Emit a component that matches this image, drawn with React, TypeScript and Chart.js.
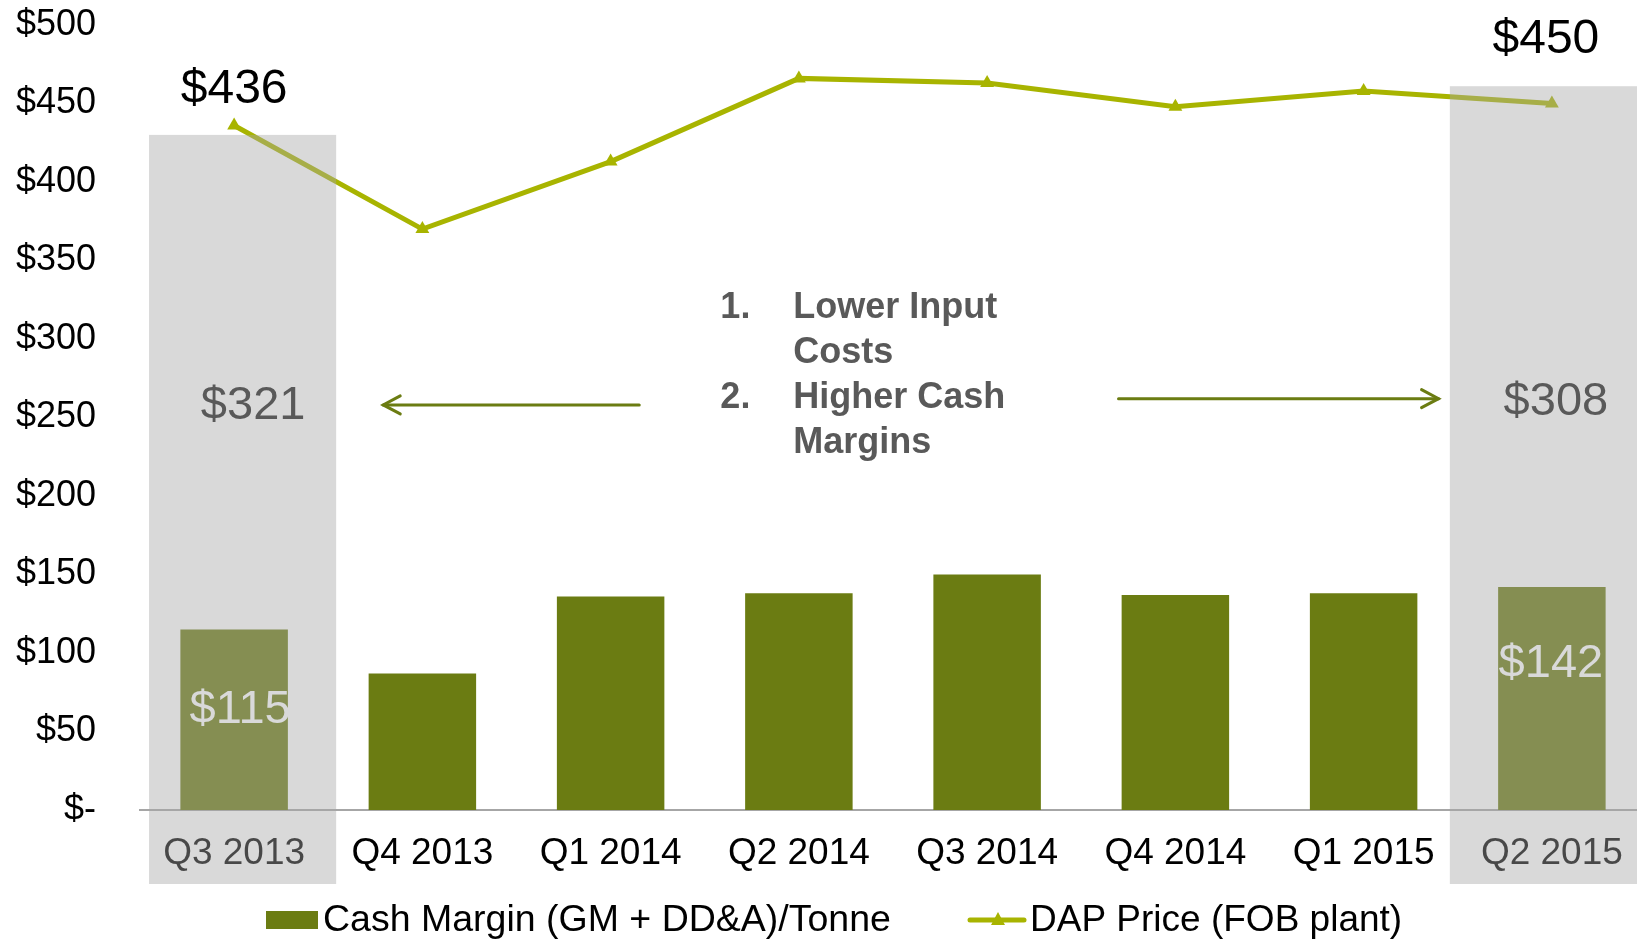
import React, { useEffect, useRef } from "react";
import { Chart, registerables } from "chart.js";

Chart.register(...registerables);

const categories = ["Q3 2013", "Q4 2013", "Q1 2014", "Q2 2014", "Q3 2014", "Q4 2014", "Q1 2015", "Q2 2015"];
const cashMargin = [115, 87, 136, 138, 150, 137, 138, 142];
const dapPrice = [436, 370, 413, 466, 463, 448, 458, 450];
const yTickValues = [0, 50, 100, 150, 200, 250, 300, 350, 400, 450, 500];
const yTickLabels = ["$-", "$50", "$100", "$150", "$200", "$250", "$300", "$350", "$400", "$450", "$500"];
const seriesNames = ["Cash Margin (GM + DD&A)/Tonne", "DAP Price (FOB plant)"];
const highlightIndex = [0, 7];
const highlightCashCost = ["$321", "$308"];
const highlightMargin = ["$115", "$142"];
const highlightPrice = ["$436", "$450"];
const bandTopValues = [430, 461];
const noteNumbers = ["1.", "", "2.", ""];
const noteLines = ["Lower Input", "Costs", "Higher Cash", "Margins"];

const FONT = '"Liberation Sans", Arial, Helvetica, sans-serif';
const BAR_COLOR = "#6b7c12";
const LINE_COLOR = "#a8b400";
const BAND_COLOR = "rgba(166,166,166,0.43)";

const overlayPlugin = {
  id: "overlay",
  afterDraw(chart: any) {
    const ctx = chart.ctx;
    const xs = chart.scales.x;
    const ys = chart.scales.y;
    const cw = xs.getPixelForValue(1) - xs.getPixelForValue(0);
    const cx = (v: number) => xs.getPixelForValue(0) + v * cw;
    const area = chart.chartArea;

    ctx.save();
    // white labels inside highlighted bars (under the bands)
    ctx.font = `47px ${FONT}`;
    ctx.fillStyle = "#ffffff";
    ctx.textAlign = "center";
    ctx.textBaseline = "middle";
    const marginDx = [6, -1];
    const marginDy = [81, 77];
    highlightIndex.forEach((idx, k) => {
      ctx.fillText(
        highlightMargin[k],
        xs.getPixelForValue(idx) + marginDx[k],
        ys.getPixelForValue(cashMargin[idx]) + marginDy[k]
      );
    });

    // translucent highlight bands
    ctx.fillStyle = BAND_COLOR;
    const bandL = [-0.452, -0.542];
    const bandR = [0.542, 0.7];
    highlightIndex.forEach((idx, k) => {
      const x0 = cx(idx + bandL[k]);
      const x1 = cx(idx + bandR[k]);
      const y0 = ys.getPixelForValue(bandTopValues[k]);
      const y1 = area.bottom + 74;
      ctx.fillRect(x0, y0, x1 - x0, y1 - y0);
    });

    // cash cost labels in bands
    ctx.font = `47px ${FONT}`;
    ctx.fillStyle = "#595959";
    const costDx = [19, 4];
    const costVal = [257, 260];
    highlightIndex.forEach((idx, k) => {
      ctx.fillText(highlightCashCost[k], xs.getPixelForValue(idx) + costDx[k], ys.getPixelForValue(costVal[k]));
    });

    // price labels
    ctx.font = `48px ${FONT}`;
    ctx.fillStyle = "#000000";
    const priceDx = [0, -6];
    const priceDy = [-36, -64];
    highlightIndex.forEach((idx, k) => {
      ctx.fillText(
        highlightPrice[k],
        xs.getPixelForValue(idx) + priceDx[k],
        ys.getPixelForValue(dapPrice[idx]) + priceDy[k]
      );
    });

    // arrows
    ctx.strokeStyle = BAR_COLOR;
    ctx.lineWidth = 3;
    ctx.lineCap = "round";
    const drawArrow = (xa: number, xb: number, y: number) => {
      ctx.beginPath();
      ctx.moveTo(xa, y);
      ctx.lineTo(xb, y);
      ctx.stroke();
      const dir = xb > xa ? 1 : -1;
      ctx.beginPath();
      ctx.moveTo(xb - dir * 17, y - 9);
      ctx.lineTo(xb, y);
      ctx.lineTo(xb - dir * 17, y + 9);
      ctx.stroke();
    };
    drawArrow(cx(2.152), cx(0.792), ys.getPixelForValue(258));
    drawArrow(cx(4.698), cx(6.398), ys.getPixelForValue(262));

    // note text
    ctx.font = `bold 36px ${FONT}`;
    ctx.fillStyle = "#595959";
    ctx.textAlign = "left";
    noteLines.forEach((line, i) => {
      const yy = ys.getPixelForValue(320) + i * 45;
      if (noteNumbers[i]) ctx.fillText(noteNumbers[i], cx(2.583), yy);
      ctx.fillText(line, cx(2.97), yy);
    });

    // legend
    const ly = area.bottom + 110;
    ctx.fillStyle = BAR_COLOR;
    ctx.fillRect(266, ly - 9, 52, 18);
    ctx.fillStyle = "#000000";
    ctx.font = `37.5px ${FONT}`;
    ctx.textBaseline = "middle";
    ctx.fillText(seriesNames[0], 323, ly + 1);
    ctx.strokeStyle = LINE_COLOR;
    ctx.lineWidth = 5;
    ctx.beginPath();
    ctx.moveTo(970, ly);
    ctx.lineTo(1024, ly);
    ctx.stroke();
    ctx.fillStyle = LINE_COLOR;
    ctx.beginPath();
    ctx.moveTo(998, ly - 8);
    ctx.lineTo(1005, ly + 5);
    ctx.lineTo(991, ly + 5);
    ctx.closePath();
    ctx.fill();
    ctx.fillStyle = "#000000";
    ctx.font = `37px ${FONT}`;
    ctx.fillText(seriesNames[1], 1030, ly + 1);
    ctx.restore();
  },
};

export default function App() {
  const ref = useRef<HTMLCanvasElement>(null);
  useEffect(() => {
    if (!ref.current) return;
    Chart.defaults.font.family = FONT;
    const chart = new Chart(ref.current, {
      type: "bar",
      data: {
        labels: categories,
        datasets: [
          {
            type: "line",
            label: seriesNames[1],
            data: dapPrice,
            borderColor: LINE_COLOR,
            backgroundColor: LINE_COLOR,
            borderWidth: 5,
            pointStyle: "triangle",
            pointRadius: 8,
            pointBorderWidth: 0,
            pointBackgroundColor: LINE_COLOR,
            tension: 0,
            clip: false,
            order: 0,
          } as any,
          {
            type: "bar",
            label: seriesNames[0],
            data: cashMargin,
            backgroundColor: BAR_COLOR,
            categoryPercentage: 1,
            barPercentage: 0.571,
            order: 1,
          } as any,
        ],
      },
      options: {
        animation: false,
        responsive: false,
        maintainAspectRatio: false,
        layout: { autoPadding: false, padding: { top: 25, left: 0, right: 0, bottom: 0 } },
        plugins: { legend: { display: false }, tooltip: { enabled: false } },
        scales: {
          x: {
            grid: { display: false, drawTicks: true, tickLength: 22 },
            border: { display: true, color: "#a6a6a6", width: 2 },
            ticks: { color: "#000000", font: { size: 37, family: FONT }, padding: 0, maxRotation: 0, autoSkip: false },
            afterFit: (s: any) => {
              s.height = 129;
              s.paddingLeft = 0;
              s.paddingRight = 0;
            },
          },
          y: {
            min: 0,
            max: 500,
            grid: { display: false, drawTicks: true, tickLength: 44 },
            border: { display: false },
            afterBuildTicks: (s: any) => {
              s.ticks = yTickValues.map((v) => ({ value: v }));
            },
            ticks: {
              color: "#000000",
              font: { size: 36, family: FONT },
              padding: 0,
              callback: (v: any) => yTickLabels[yTickValues.indexOf(Number(v))],
            },
            afterFit: (s: any) => {
              s.width = 140;
            },
          },
        },
      },
      plugins: [overlayPlugin],
    });
    return () => chart.destroy();
  }, []);
  return (
    <div style={{ position: "absolute", left: 0, top: 0, width: 1637, height: 939, overflow: "hidden", background: "#fff" }}>
      <div style={{ width: 1646, height: 939 }}>
        <canvas ref={ref} width={1646} height={939} style={{ display: "block", width: 1646, height: 939 }} />
      </div>
    </div>
  );
}
